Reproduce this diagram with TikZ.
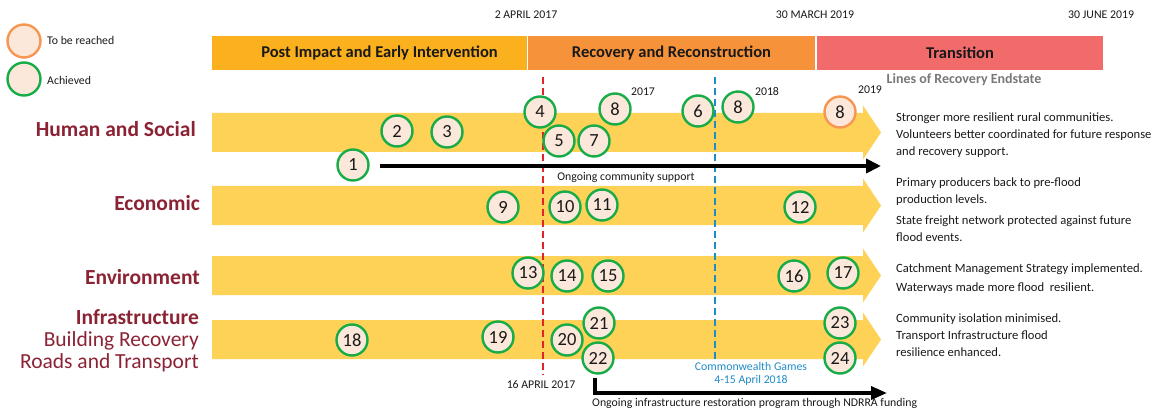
\documentclass[tikz,border=0pt]{standalone}
\usepackage{fontspec}
\setmainfont{Carlito}
\usetikzlibrary{arrows.meta,positioning}

\definecolor{phaseA}{RGB}{251,176,29}
\definecolor{phaseB}{RGB}{246,146,58}
\definecolor{phaseC}{RGB}{242,107,107}
\definecolor{lanebar}{RGB}{254,210,86}
\definecolor{achgreen}{RGB}{24,172,72}
\definecolor{pendorange}{RGB}{246,150,80}
\definecolor{peach}{RGB}{252,232,218}
\definecolor{rowred}{RGB}{140,35,52}
\definecolor{redline}{RGB}{226,35,40}
\definecolor{blueline}{RGB}{30,140,200}
\definecolor{endgrey}{RGB}{120,120,120}

\begin{document}
\begin{tikzpicture}[x=1pt,y=-1pt,
    every node/.style={inner sep=0pt, text=black!90},
    phase/.style={minimum height=34pt, font=\bfseries\fontsize{16.5}{18}\selectfont},
    milestone/.style={circle, draw=achgreen, line width=2.4pt, fill=peach, minimum size=31pt, font=\fontsize{18.5}{18}\selectfont},
    pending/.style={milestone, draw=pendorange},
    rowlabel/.style={anchor=east, align=right, text=rowred, font=\fontsize{21.5}{22}\selectfont},
    outcome/.style={anchor=west, align=left, font=\fontsize{12.6}{17}\selectfont},
    small/.style={font=\fontsize{11.8}{13}\selectfont},
    ]
  \useasboundingbox (0,0) rectangle (1157,409);

  \node[pending, minimum size=33pt] (key-reach) at (24,41) {};
  \node[milestone, minimum size=33pt] (key-done) at (24,79) {};
  \node[small, anchor=west] (key-reach-txt) at (47,40) {To be reached};
  \node[small, anchor=west] (key-done-txt) at (47,80) {Achieved};

  \node[small] (d-apr17) at (526,15) {2 APRIL 2017};
  \node[small] (d-mar19) at (815,15) {30 MARCH 2019};
  \node[small] (d-jun19) at (1101,15) {30 JUNE 2019};

  \node[phase, fill=phaseA, minimum width=315pt] (pie) at (369.5,53) {\hspace*{20pt}Post Impact and Early Intervention};
  \node[phase, fill=phaseB, minimum width=287pt] (rar) at (671.5,53) {Recovery and Reconstruction};
  \node[phase, fill=phaseC, minimum width=286pt] (tra) at (960,53) {Transition};
  \node[font=\bfseries\fontsize{14}{16}\selectfont, text=endgrey] (endstate) at (964,80) {Lines of Recovery Endstate};

  \foreach \y in {132.5,205.5,275.5,339.5}
    \fill[lanebar] (212,\y-19.5) -- (863,\y-19.5) -- (863,\y-27) -- (881,\y)
      -- (863,\y+27) -- (863,\y+19.5) -- (212,\y+19.5) -- cycle;

  \node[rowlabel] (hs) at (196,129) {\textbf{Human and Social}};
  \node[rowlabel] (eco) at (200,203) {\textbf{Economic}};
  \node[rowlabel] (env) at (200,277) {\textbf{Environment}};
  \node[rowlabel] (inf) at (199,341) {\textbf{Infrastructure}\\Building Recovery\\Roads and Transport};

  \coordinate (red-top) at (543,77);
  \coordinate (red-bot) at (543,375);
  \coordinate (blue-top) at (715,77);
  \coordinate (blue-bot) at (715,362);
  \draw[redline, line width=1.6pt, dash pattern=on 7pt off 4pt] (red-top) -- (red-bot);
  \draw[blueline, line width=1.6pt, dash pattern=on 7pt off 4pt] (blue-top) -- (blue-bot);
  \node[small] (d-apr17b) at (541,385) {16 APRIL 2017};
  \node[small, text=blueline, align=center] (cwg) at (751,373.5) {Commonwealth Games\\4-15 April 2018};

  \coordinate (cs-start) at (380,166);
  \coordinate (cs-end) at (881,166);
  \draw[line width=4pt, -{Triangle[length=15pt,width=14pt]}] (cs-start) -- (cs-end);
  \node[small] (cs-txt) at (626,177) {Ongoing community support};

  \node[small] (y17) at (643,92) {2017};
  \node[small] (y18) at (767,92) {2018};
  \node[small] (y19) at (870,90) {2019};

  \node[milestone] (n1) at (353,165) {1};
  \node[milestone] (n2) at (397,131) {2};
  \node[milestone] (n3) at (447,132) {3};
  \node[milestone] (n4) at (540,112) {4};
  \node[milestone] (n5) at (559,141) {5};
  \node[milestone] (n7) at (594,141) {7};
  \node[milestone] (n8a) at (615,109) {8};
  \node[milestone] (n6) at (698,111) {6};
  \node[milestone] (n8b) at (738,107) {8};
  \node[pending] (n8c) at (840,112) {8};
  \node[milestone] (n9) at (503,207) {9};
  \node[milestone] (n10) at (565,207) {10};
  \node[milestone] (n11) at (602,205) {11};
  \node[milestone] (n12) at (800,207) {12};
  \node[milestone] (n13) at (528,273) {13};
  \node[milestone] (n14) at (567,276) {14};
  \node[milestone] (n15) at (608,276) {15};
  \node[milestone] (n16) at (794,276) {16};
  \node[milestone] (n17) at (843,273) {17};
  \node[milestone] (n18) at (352,340) {18};
  \node[milestone] (n19) at (498,337) {19};
  \node[milestone] (n20) at (567,340) {20};
  \node[milestone] (n21) at (599,323) {21};
  \node[milestone] (n22) at (598,358) {22};
  \node[milestone] (n23) at (840,323) {23};
  \node[milestone] (n24) at (840,358) {24};

  \coordinate (infra-end) at (887,393);
  \draw[line width=3.5pt, -{Triangle[length=16pt,width=13pt]}] ([xshift=-3pt,yshift=-3pt]n22.south) |- (infra-end);
  \node[small, anchor=west] (infra-txt) at (592,403) {Ongoing infrastructure restoration program through NDRRA funding};

  \node[outcome] (o-hs) at (896,135) {Stronger more resilient rural communities.\\Volunteers better coordinated for future response\\and recovery support.};
  \node[outcome] (o-eco1) at (896,192) {Primary producers back to pre-flood\\production levels.};
  \node[outcome] (o-eco2) at (896,229) {State freight network protected against future\\flood events.};
  \node[outcome, font=\fontsize{12.6}{19}\selectfont] (o-env) at (896,278.5) {Catchment Management Strategy implemented.\\Waterways made more flood\ \ resilient.};
  \node[outcome] (o-inf) at (896,335) {Community isolation minimised.\\Transport Infrastructure flood\\resilience enhanced.};
\end{tikzpicture}
\end{document}
